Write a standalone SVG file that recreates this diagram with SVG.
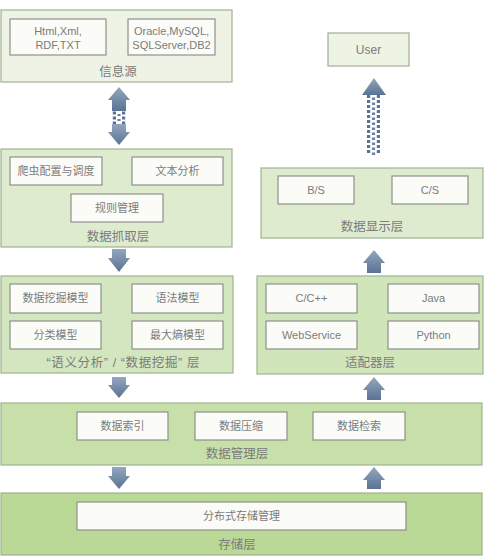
<svg xmlns="http://www.w3.org/2000/svg" width="485" height="560" viewBox="0 0 485 560">
<defs>
<style>
text{font-family:"Liberation Sans","Noto Sans CJK SC",sans-serif;fill:#7b7b7b;text-anchor:middle;}
.it{font-size:11px;}
.lb{font-size:12.5px;}
.layer{stroke:#9fb38f;stroke-width:1.2;}
.box{fill:#fbfcf8;stroke:#8e928a;stroke-width:1.2;}
.arrow{fill:url(#ag);}
</style>
<linearGradient id="ag" x1="0" y1="0" x2="0" y2="1">
<stop offset="0" stop-color="#93a7be"/>
<stop offset="1" stop-color="#5a7393"/>
</linearGradient>
<pattern id="dots" x="367" y="95" width="13" height="5" patternUnits="userSpaceOnUse">
<rect x="0" y="0" width="3.2" height="3" fill="#5a7393"/>
<rect x="9.8" y="0" width="3.2" height="3" fill="#5a7393"/>
<rect x="4.9" y="2.5" width="3.2" height="3" fill="#6a82a0"/>
</pattern>
<pattern id="dots2" x="112" y="111" width="14" height="5" patternUnits="userSpaceOnUse">
<rect x="0.8" y="0.5" width="3.2" height="3" fill="#5a7393"/>
<rect x="10" y="0.5" width="3.2" height="3" fill="#5a7393"/>
<rect x="5.4" y="3" width="3.2" height="3" fill="#6a82a0"/>
</pattern>
</defs>
<rect width="485" height="560" fill="#ffffff"/>

<g id="connectors">
<path class="arrow" d="M119,87 L130,100 L126,100 L126,111 L112,111 L112,100 L108,100 Z"/>
<rect x="112" y="111" width="14" height="13" fill="url(#dots2)"/>
<path class="arrow" d="M112,124 L126,124 L126,132 L130,132 L119,145 L108,132 L112,132 Z"/>
<path class="arrow" d="M374,78 L386,95 L362,95 Z"/>
<rect x="367" y="95" width="13" height="60" fill="url(#dots)"/>
<path class="arrow" d="M112,249 L126,249 L126,258 L130,258 L119,272 L108,258 L112,258 Z"/>
<path class="arrow" d="M374,250 L385,263 L381,263 L381,273 L367,273 L367,263 L363,263 Z"/>
<path class="arrow" d="M112,377 L126,377 L126,385 L130,385 L119,398 L108,385 L112,385 Z"/>
<path class="arrow" d="M374,377 L385,390 L381,390 L381,400 L367,400 L367,390 L363,390 Z"/>
<path class="arrow" d="M112,467 L126,467 L126,476 L130,476 L119,489 L108,476 L112,476 Z"/>
<path class="arrow" d="M374,467 L385,480 L381,480 L381,489 L367,489 L367,480 L363,480 Z"/>
</g>

<g id="layer-source">
<rect class="layer" x="1" y="10" width="231" height="72" fill="#eef3e6"/>
<rect class="box" x="10" y="19" width="96" height="36"/>
<text class="it" x="58" y="35">Html,Xml,</text>
<text class="it" x="58" y="49">RDF,TXT</text>
<rect class="box" x="128" y="19" width="87" height="36"/>
<text class="it" x="171.5" y="35">Oracle,MySQL,</text>
<text class="it" x="171.5" y="49">SQLServer,DB2</text>
<text class="lb" x="118" y="76">信息源</text>
</g>

<g id="node-user">
<rect x="328" y="33" width="81" height="33" fill="#eef4e4" stroke="#a3aa9c" stroke-width="1.2"/>
<text x="368.5" y="54" style="font-size:12px">User</text>
</g>

<g id="layer-crawl">
<rect class="layer" x="1" y="149" width="231" height="98" fill="#dfebcf"/>
<rect class="box" x="10" y="157" width="92" height="28"/>
<text class="it" x="56" y="175">爬虫配置与调度</text>
<rect class="box" x="132" y="157" width="91" height="28"/>
<text class="it" x="177.5" y="175">文本分析</text>
<rect class="box" x="71" y="194" width="92" height="28"/>
<text class="it" x="117" y="212">规则管理</text>
<text class="lb" x="118" y="241">数据抓取层</text>
</g>

<g id="layer-display">
<rect class="layer" x="261" y="168" width="222" height="70" fill="#dfebcf"/>
<rect class="box" x="278" y="176" width="76" height="28"/>
<text class="it" x="316" y="194">B/S</text>
<rect class="box" x="392" y="176" width="76" height="28"/>
<text class="it" x="430" y="194">C/S</text>
<text class="lb" x="372" y="231">数据显示层</text>
</g>

<g id="layer-analysis">
<rect class="layer" x="1" y="276" width="232" height="97" fill="#d4e6bf"/>
<rect class="box" x="10" y="284" width="91" height="29"/>
<text class="it" x="55.5" y="302">数据挖掘模型</text>
<rect class="box" x="132" y="284" width="91" height="29"/>
<text class="it" x="177.5" y="302">语法模型</text>
<rect class="box" x="10" y="321" width="91" height="28"/>
<text class="it" x="55.5" y="339">分类模型</text>
<rect class="box" x="132" y="321" width="91" height="28"/>
<text class="it" x="177.5" y="339">最大熵模型</text>
<text class="lb" x="123" y="367" textLength="153" lengthAdjust="spacing">“语义分析” / “数据挖掘” 层</text>
</g>

<g id="layer-adapter">
<rect class="layer" x="257" y="276" width="226" height="98" fill="#d1e5bb"/>
<rect class="box" x="266" y="284" width="91" height="29"/>
<text class="it" x="311.5" y="302">C/C++</text>
<rect class="box" x="388" y="284" width="91" height="29"/>
<text class="it" x="433.5" y="302">Java</text>
<rect class="box" x="266" y="321" width="91" height="28"/>
<text class="it" x="311.5" y="339">WebService</text>
<rect class="box" x="388" y="321" width="91" height="28"/>
<text class="it" x="433.5" y="339">Python</text>
<text class="lb" x="370" y="367">适配器层</text>
</g>

<g id="layer-manage">
<rect class="layer" x="1" y="403" width="481" height="62" fill="#c7e0aa"/>
<rect class="box" x="77" y="412" width="91" height="28"/>
<text class="it" x="122.5" y="430">数据索引</text>
<rect class="box" x="195" y="412" width="92" height="28"/>
<text class="it" x="241" y="430">数据压缩</text>
<rect class="box" x="313" y="412" width="92" height="28"/>
<text class="it" x="359" y="430">数据检索</text>
<text class="lb" x="237" y="458">数据管理层</text>
</g>

<g id="layer-storage">
<rect class="layer" x="1" y="493" width="481" height="62" fill="#bad896"/>
<rect class="box" x="77" y="502" width="329" height="28"/>
<text class="it" x="241.5" y="520">分布式存储管理</text>
<text class="lb" x="237" y="549">存储层</text>
</g>
</svg>
